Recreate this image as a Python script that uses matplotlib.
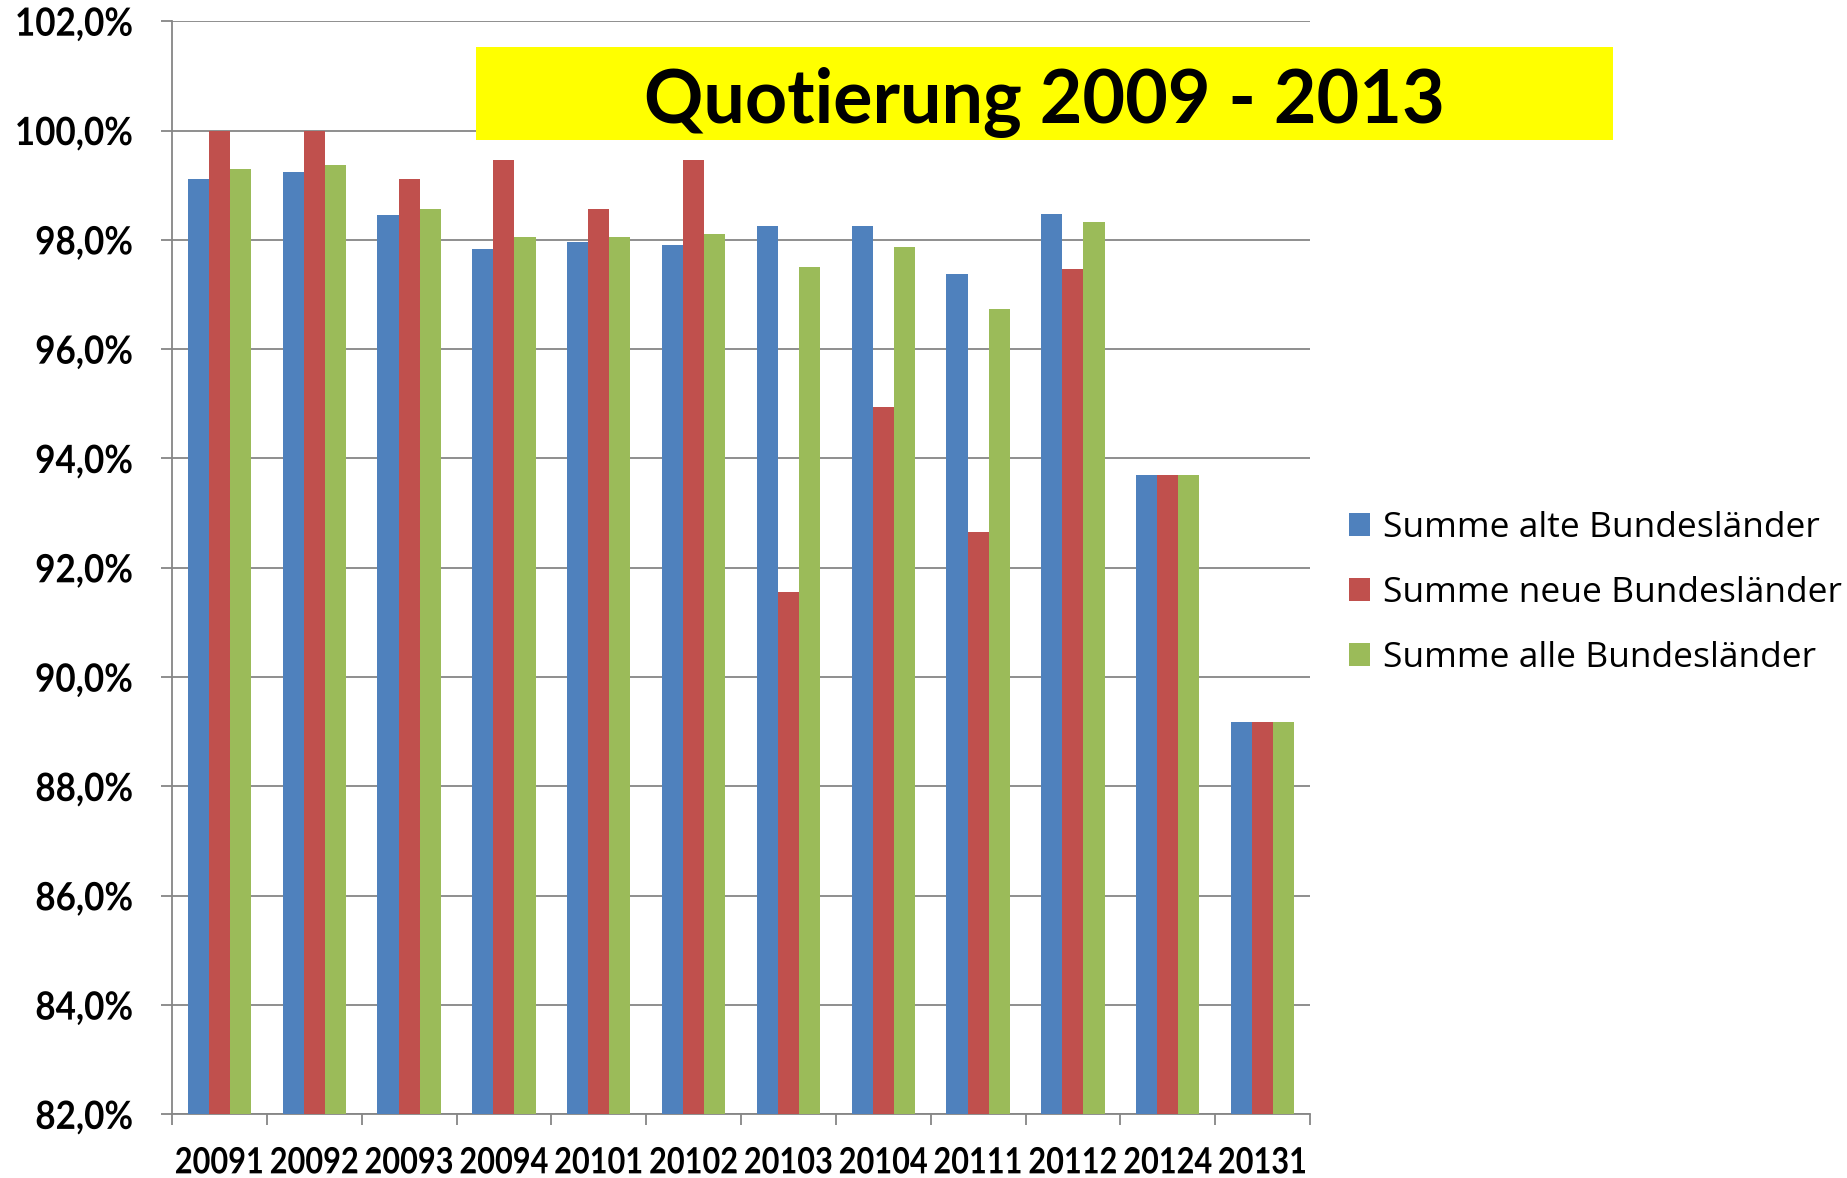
import numpy as np
import matplotlib
matplotlib.use('Agg')
import matplotlib.pyplot as plt
from matplotlib.patches import Rectangle
from matplotlib.ticker import FuncFormatter
from matplotlib.patheffects import AbstractPathEffect
from matplotlib.transforms import Affine2D

quartale = ['20091', '20092', '20093', '20094', '20101', '20102',
            '20103', '20104', '20111', '20112', '20124', '20131']
alte = [99.11, 99.24, 98.45, 97.83, 97.96, 97.91, 98.26, 98.26, 97.38, 98.47, 93.69, 89.18]
neue = [100.0, 100.0, 99.12, 99.46, 98.56, 99.46, 91.55, 94.95, 92.66, 97.47, 93.69, 89.18]
alle = [99.29, 99.37, 98.56, 98.05, 98.05, 98.10, 97.50, 97.86, 96.74, 98.33, 93.69, 89.18]
namen = ['Summe alte Bundesländer', 'Summe neue Bundesländer', 'Summe alle Bundesländer']
farben = ['#4F81BD', '#C0504D', '#9BBB59']

grau = '#868686'


class Squeeze(AbstractPathEffect):
    # Schrift horizontal stauchen (Calibri-artig schmal)
    def __init__(self, sx, anchor='center'):
        super().__init__()
        self.sx = sx
        self.anchor = anchor

    def draw_path(self, renderer, gc, tpath, affine, rgbFace=None):
        v = tpath.vertices
        if self.anchor == 'right':
            cx = v[:, 0].max()
        else:
            cx = (v[:, 0].min() + v[:, 0].max()) / 2
        t = Affine2D().translate(-cx, 0).scale(self.sx, 1).translate(cx, 0) + affine
        renderer.draw_path(gc, tpath, t, rgbFace)


fig = plt.figure(figsize=(18.47, 11.78), dpi=100)
ax = fig.add_axes([172/1847, 1 - 1114.4/1178, (1310 - 172)/1847, (1114.4 - 21.2)/1178])

x = np.arange(len(quartale))
w = 1/4.5
for i, (werte, name, farbe) in enumerate(zip([alte, neue, alle], namen, farben)):
    ax.bar(x + (i - 1)*w, np.array(werte) - 82, bottom=82, width=w,
           color=farbe, label=name, zorder=3)

ax.set_ylim(82, 102)
ax.set_xlim(-0.5, len(quartale) - 0.5)
ax.set_yticks(np.arange(82, 103, 2))
ax.yaxis.set_major_formatter(FuncFormatter(lambda v, p: ('%.1f%%' % v).replace('.', ',')))
ax.grid(axis='y', color=grau, linewidth=1.3, zorder=0)

ax.set_xticks(x)
ax.set_xticklabels(quartale)
ax.set_xticks(np.arange(-0.5, len(quartale), 1), minor=True)
ax.tick_params(axis='x', which='major', length=0, pad=23)
ax.tick_params(axis='x', which='minor', length=8, width=1.3, color=grau)
ax.tick_params(axis='y', length=8, width=1.3, color=grau, pad=20)

for lab in ax.get_xticklabels():
    lab.set_family('Lato')
    lab.set_fontweight('bold')
    lab.set_fontsize(26)
    lab.set_path_effects([Squeeze(0.85)])
for lab in ax.get_yticklabels():
    lab.set_family('Lato')
    lab.set_fontweight('bold')
    lab.set_fontsize(28)
    lab.set_path_effects([Squeeze(0.9, 'right')])

for s in ['top', 'right']:
    ax.spines[s].set_visible(False)
for s in ['left', 'bottom']:
    ax.spines[s].set_color(grau)
    ax.spines[s].set_linewidth(1.3)

# gelber Titelkasten
fig.patches.append(Rectangle((476/1847, 1 - 140/1178), (1613 - 476)/1847, 93/1178,
                             transform=fig.transFigure, facecolor='#FFFF00',
                             edgecolor='none', zorder=5))
fig.text(1044/1847, 1 - 103/1178, 'Quotierung 2009 - 2013', ha='center', va='center',
         fontsize=53, fontweight='bold', family='Lato', zorder=6)

leg = fig.legend(loc='center left', bbox_to_anchor=(1349/1847, 0.5 - 4/1178), frameon=False,
                 borderpad=0, borderaxespad=0, handlelength=0.6, handleheight=0.6,
                 handletextpad=0.35, labelspacing=0.88,
                 prop={'family': 'Open Sans', 'size': 25.5})

fig.savefig('out.png', dpi=100)
